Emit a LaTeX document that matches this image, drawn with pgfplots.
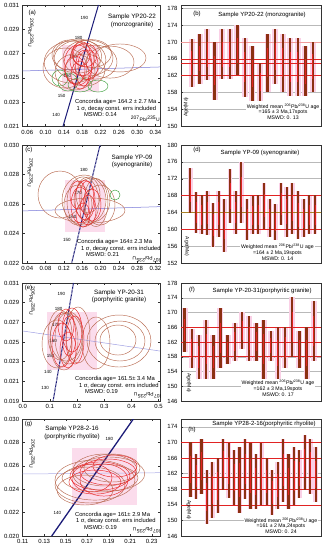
\documentclass[border=0pt]{standalone}
\usepackage{pgfplots}
\usepackage{pgfplotstable}
\pgfplotsset{compat=1.18}
\usepackage{fontspec}
\setmainfont{Liberation Sans}
\definecolor{navy}{RGB}{28,28,120}
\definecolor{ebrown}{RGB}{184,106,80}
\definecolor{ered}{RGB}{232,40,40}
\definecolor{egreen}{RGB}{60,160,60}
\definecolor{dline}{RGB}{120,120,215}
\definecolor{pinkbg}{RGB}{250,208,230}
\definecolor{barbrown}{RGB}{140,48,18}
\definecolor{barred}{RGB}{225,35,35}
\definecolor{olivel}{RGB}{170,130,40}

% ---------- bar data (centre, half-length) ----------
\pgfplotstableread[row sep=\\]{
i c e\\
1 165.0 5.8\\ 2 166.05 5.95\\ 3 166.95 6.05\\ 4 163.1 6.9\\ 5 167.05 5.95\\
6 167.05 5.95\\ 7 168.05 5.95\\ 8 164.0 7.0\\ 9 162.5 6.5\\ 10 160.45 4.45\\
11 165.05 6.95\\ 12 166.55 6.45\\ 13 165.05 6.95\\ 14 164.05 6.95\\ 15 164.05 6.95\\
16 163.05 5.95\\ 17 164.05 5.95\\
}\tbB
\pgfplotstableread[row sep=\\]{
i c e\\
1 169.15 5.35\\ 2 163.95 4.95\\ 3 163.45 4.65\\ 4 163.85 5.25\\ 5 161.05 5.15\\
6 163.65 5.45\\ 7 160.9 6.2\\ 8 167.9 6.3\\ 9 163.95 5.15\\ 10 168.8 7.2\\
11 162.3 4.8\\ 12 163.35 4.55\\ 13 163.45 4.65\\ 14 165.6 5.5\\ 15 162.65 4.45\\
16 161.7 4.2\\ 17 166.0 5.1\\ 18 164.15 5.95\\ 19 164.95 6.15\\ 20 163.4 5.7\\
21 162.6 4.5\\ 22 163.45 4.65\\ 23 163.45 4.65\\
}\tbD
\pgfplotstableread[row sep=\\]{
i c e\\
1 165.15 5.95\\ 2 160.25 5.25\\ 3 157.95 6.05\\ 4 160.0 8.1\\ 5 157.95 6.05\\
6 163.0 8.1\\ 7 160.0 4.0\\ 8 162.05 5.15\\ 9 165.1 5.1\\ 10 163.0 6.1\\
11 162.05 5.15\\ 12 160.0 8.1\\ 13 161.0 4.1\\ 14 159.0 7.1\\ 15 160.5 5.6\\
16 166.15 8.15\\ 17 160.0 5.1\\ 18 159.0 7.1\\ 19 165.05 8.15\\
}\tbF
\pgfplotstableread[row sep=\\]{
i c e\\
1 163.05 7.05\\ 2 161.3 5.7\\ 3 163.9 7.1\\ 4 156.0 7.0\\ 5 157.85 7.15\\
6 158.9 7.1\\ 7 164.35 6.65\\ 8 162.8 7.1\\ 9 160.95 7.05\\ 10 160.35 8.55\\
11 163.3 7.7\\ 12 161.4 8.5\\ 13 159.95 7.05\\ 14 161.9 8.0\\ 15 159.95 6.05\\
16 157.15 5.85\\ 17 158.95 6.05\\ 18 162.85 8.15\\ 19 159.95 7.05\\ 20 161.4 7.5\\
21 161.85 6.15\\ 22 164.8 7.1\\ 23 163.9 7.1\\ 24 161.8 7.1\\
}\tbH

% ---------- ellipse data (centre in data, radii in pt, angle) ----------
\pgfplotstableread[row sep=\\]{
x y rx ry a\\
0.158 0.0263 28 21 0\\ 0.175 0.02647 26 20 0\\ 0.1927 0.02664 25 18 0\\
0.208 0.0263 22 17 0\\ 0.2626 0.02664 26 14 0\\ 0.2408 0.0263 24 16 0\\
0.1424 0.02581 22 20 0\\ 0.1643 0.02549 20 18 0\\ 0.1861 0.02565 20 16 0\\
0.1533 0.02689 18 15 0\\ 0.2000 0.02700 20 14 0\\ 0.1700 0.02680 24 17 0\\
}\ellAb
\pgfplotstableread[row sep=\\]{
x y rx ry a\\
0.1708 0.02606 14 20 0\\ 0.1796 0.02647 12 16 0\\ 0.1643 0.02565 10 14 0\\
0.1861 0.02689 12 12 0\\ 0.1752 0.02524 9 14 0\\ 0.1927 0.02606 10 15 0\\
0.1830 0.02580 8 18 0\\ 0.1780 0.02700 9 12 0\\
}\ellAr
\pgfplotstableread[row sep=\\]{
x y rx ry a\\
0.149 0.02466 10 9 0\\ 0.1315 0.02499 8 8 0\\
0.1752 0.02442 12 7 0\\ 0.2145 0.02433 10 6 0\\
}\ellAg
\pgfplotstableread[row sep=\\]{
x y rx ry a\\
0.1115 0.02664 22 23.5 0\\ 0.177 0.02556 35 12.5 0\\ 0.164 0.02627 22 25 0\\
0.1618 0.02614 16 25 0\\ 0.1814 0.02627 18 22 0\\ 0.1508 0.02593 14 20 0\\
0.1989 0.02593 15 20 0\\ 0.1728 0.02661 12 18 0\\ 0.1900 0.02610 12 24 0\\
}\ellCb
\pgfplotstableread[row sep=\\]{
x y rx ry a\\
0.1552 0.02593 9 18 0\\ 0.1661 0.02627 10 20 0\\ 0.1728 0.02559 8 15 0\\
0.1508 0.02661 8 14 0\\ 0.1814 0.02593 9 16 0\\ 0.1618 0.02525 7 12 0\\
0.1700 0.02640 7 17 0\\
}\ellCr
\pgfplotstableread[row sep=\\]{
x y rx ry a\\
0.2317 0.02661 5 5 0\\
}\ellCg
\pgfplotstableread[row sep=\\]{
x y rx ry a\\
0.1519 0.0251 14 29 0\\ 0.1703 0.02541 14 26 0\\ 0.1372 0.02571 12 25 0\\
0.2034 0.02571 12 28 0\\ 0.3542 0.0251 32 26 20\\ 0.3578 0.0251 25 20 20\\
0.3505 0.0252 18 15 20\\ 0.2696 0.0249 14 26 0\\ 0.1600 0.0255 16 24 0\\
0.1262 0.0248 15 24 15\\
}\ellEb
\pgfplotstableread[row sep=\\]{
x y rx ry a\\
0.1813 0.02622 10 22 0\\ 0.1445 0.02469 10 22 0\\ 0.1666 0.02419 8 18 0\\
0.1924 0.0252 9 24 0\\ 0.1593 0.02673 8 16 0\\ 0.1700 0.0256 7 20 0\\
}\ellEr
\pgfplotstableread[row sep=\\]{
x y rx ry a\\
0.1772 0.02478 40 20 25\\ 0.1726 0.02436 35 18 28\\ 0.1865 0.02564 32 16 22\\
0.193 0.02581 28 14 20\\ 0.1679 0.02393 28 15 30\\ 0.1819 0.02496 38 14 25\\
0.1900 0.02530 36 17 22\\
}\ellGb
\pgfplotstableread[row sep=\\]{
x y rx ry a\\
0.1819 0.02513 30 14 25\\ 0.1893 0.02547 28 13 22\\ 0.1772 0.02461 26 12 28\\
0.1958 0.02598 22 11 20\\ 0.1744 0.02496 20 14 30\\ 0.1856 0.02478 24 16 25\\
}\ellGr

\tikzset{
  agelab/.style={font=\fontsize{4.5}{5}\selectfont, anchor=east, xshift=-3pt},
  sampl/.style={font=\fontsize{6.3}{7.6}\selectfont, align=center},
  conct/.style={font=\fontsize{5.8}{6.6}\selectfont, align=left, anchor=west, inner sep=0pt},
  wmt/.style={font=\fontsize{5.2}{5.7}\selectfont, align=center, fill=white, inner sep=1pt},
  plab/.style={font=\fontsize{6}{7}\selectfont},
  axl/.style={font=\fontsize{5}{6}\selectfont},
}
\pgfplotsset{
  base/.style={scale only axis, anchor=north west,
    axis line style={black!80, line width=0.5pt},
    tick style={black!80, line width=0.4pt}, major tick length=2pt,
    tick label style={font=\fontsize{6}{7}\selectfont},
    /pgf/number format/assume math mode=true,
    scaled x ticks=false, scaled y ticks=false},
  conc/.style={base, width=137.3pt,
    yticklabel style={/pgf/number format/.cd, fixed, fixed zerofill, precision=3},
    xticklabel style={/pgf/number format/.cd, fixed, fixed zerofill, precision=#1}},
  agep/.style={base, width=140pt, xtick=\empty, ytick pos=left, ymajorgrids,
    grid style={gray!55, line width=0.45pt},
    yticklabel style={/pgf/number format/.cd, fixed, precision=0}},
  ell/.style={forget plot, only marks, mark=*, scatter,
    visualization depends on={\thisrow{rx}\as\rx},
    visualization depends on={\thisrow{ry}\as\ry},
    visualization depends on={\thisrow{a}\as\ang},
    scatter/@pre marker code/.code={\draw[#1, line width=0.45pt, rotate=\ang] (0pt,0pt) ellipse [x radius=\rx pt, y radius=\ry pt];\scope[opacity=0]},
    scatter/@post marker code/.code={\endscope}},
  vbar/.style 2 args={forget plot, draw=none, mark=none, error bars/.cd, y dir=both, y explicit, error mark=none, error bar style={draw=#1, line width=#2}},
}

\begin{document}
\begin{tikzpicture}
\path[use as bounding box] (0,0) rectangle (327pt,550pt);

% ================= (a) =================
\begin{axis}[conc=2, at={(22.7pt,545pt)}, height=121.5pt,
  xmin=0.05, xmax=0.35, ymin=0.021, ymax=0.031,
  xtick={0.06,0.10,0.14,0.18,0.22,0.26,0.30,0.34},
  ytick={0.021,0.023,0.025,0.027,0.029,0.031}]
\addplot[forget plot, fill=pinkbg, draw=none, fill opacity=0.75] coordinates {(0.1359,0.02384) (0.2163,0.02384) (0.2163,0.02771) (0.1359,0.02771)} -- cycle;
\addplot[forget plot, dline, line width=0.5pt] coordinates {(0.05,0.02557) (0.35,0.0259)};
\addplot[ell=egreen] table {\ellAg};
\addplot[ell=ebrown] table {\ellAb};
\addplot[forget plot, navy, line width=1pt] coordinates {(0.138,0.021) (0.2156,0.031)};
\addplot[ell=ered] table {\ellAr};
\node[agelab] at (axis cs:0.2071,0.0299) {190};
\node[agelab] at (axis cs:0.1948,0.02832) {180};
\node[agelab] at (axis cs:0.1824,0.02672) {170};
\node[agelab] at (axis cs:0.1700,0.02513) {160};
\node[agelab] at (axis cs:0.1577,0.02354) {150};
\node[agelab] at (axis cs:0.1454,0.02195) {140};
\node[plab] at (rel axis cs:0.07,0.935) {(a)};
\node[sampl] at (rel axis cs:0.796,0.868) {Sample YP20-22\\(monzogranite)};
\node[conct] at (rel axis cs:0.38,0.152) {Concordia age= 164.2 ± 2.7 Ma\\\hspace*{1.5pt}1 σ, decay const. errs included\\\hspace*{9pt}MSWD: 0.14};
\node[axl] at (rel axis cs:0.893,0.062) {\textsuperscript{207}Pb/\textsuperscript{235}U};
\node[axl, rotate=-90] at (rel axis cs:0.06,0.77) {\textsuperscript{206}Pb/\textsuperscript{238}U};
\end{axis}

% ================= (b) =================
\begin{axis}[agep, at={(181pt,545pt)}, height=121pt,
  xmin=-0.45, xmax=18.06, ymin=150, ymax=178.8, ytick={150,154,...,178}]
\addplot[vbar={pinkbg}{6pt}] table[x=i, y=c, y error=e] {\tbB};
\addplot[forget plot, barred!45, line width=0.5pt] coordinates {(-5,170) (30,170)};
\addplot[forget plot, barred, line width=0.5pt] coordinates {(-5,166) (30,166)};
\addplot[forget plot, barred, line width=0.5pt] coordinates {(-5,165) (30,165)};
\addplot[forget plot, barred, line width=0.5pt] coordinates {(-5,162) (30,162)};
\addplot[vbar={barbrown}{2.4pt}] table[x=i, y=c, y error=e] {\tbB};
\addplot[vbar={barred}{1pt}] table[x=i, y=c, y error expr=0.5*\thisrow{e}] {\tbB};
\node[plab] at (rel axis cs:0.114,0.926) {(b)};
\node[plab] at (rel axis cs:0.579,0.917) {Sample YP20-22 (monzogranite)};
\node[wmt] at (rel axis cs:0.729,0.118) {Weighted mean \textsuperscript{206}Pb/\textsuperscript{238}U age\\=165 ± 3 Ma,17spots\\MSWD: 0. 13};
\node[axl, rotate=90] at (rel axis cs:0.036,0.157) {Age(Ma)};
\end{axis}

% ================= (c) =================
\begin{axis}[conc=2, at={(22.7pt,405pt)}, height=118pt,
  xmin=0.03, xmax=0.33, ymin=0.022, ymax=0.030,
  xtick={0.04,0.08,0.12,0.16,0.20,0.24,0.28,0.32},
  ytick={0.022,0.024,0.026,0.028,0.030}]
\addplot[forget plot, fill=pinkbg, draw=none, fill opacity=0.75] coordinates {(0.1224,0.0241) (0.2098,0.0241) (0.2098,0.02763) (0.1224,0.02763)} -- cycle;
\addplot[forget plot, dline, line width=0.5pt] coordinates {(0.03,0.02553) (0.33,0.02582)};
\addplot[ell=ebrown] table {\ellCb};
\addplot[forget plot, navy, line width=1pt] coordinates {(0.137,0.022) (0.199,0.030)};
\addplot[forget plot, white, line width=0.35pt, dash pattern=on 2pt off 2pt] coordinates {(0.137,0.022) (0.199,0.030)};
\addplot[ell=ered] table {\ellCr};
\addplot[ell=egreen] table {\ellCg};
\node[agelab] at (axis cs:0.186,0.02832) {180};
\node[agelab] at (axis cs:0.1736,0.02672) {170};
\node[agelab] at (axis cs:0.1613,0.02513) {160};
\node[agelab] at (axis cs:0.1489,0.02354) {150};
\node[plab] at (rel axis cs:0.045,0.955) {(c)};
\node[sampl] at (rel axis cs:0.796,0.86) {Sample YP-09\\(syenogranite)};
\node[conct] at (rel axis cs:0.395,0.127) {Concordia age= 164± 2.3 Ma\\\hspace*{4pt}1 σ, decay const. errs included\\\hspace*{9pt}MSWD: 0.21};
\node[axl, rotate=180] at (rel axis cs:0.905,0.034) {\textsuperscript{207}Pb/\textsuperscript{235}U};
\node[axl, rotate=-90] at (rel axis cs:0.055,0.763) {\textsuperscript{206}Pb/\textsuperscript{238}U};
\end{axis}

% ================= (d) =================
\begin{axis}[agep, at={(181pt,405pt)}, height=118pt,
  xmin=-0.64, xmax=24.06, ymin=152, ymax=180, ytick={152,156,...,180}]
\addplot[vbar={pinkbg}{4.5pt}] table[x=i, y=c, y error=e] {\tbD};
\addplot[forget plot, barred, line width=0.5pt] coordinates {(-5,168) (30,168)};
\addplot[forget plot, olivel, line width=0.6pt] coordinates {(-5,164) (30,164)};
\addplot[forget plot, barred, line width=0.5pt] coordinates {(-5,160) (30,160)};
\addplot[vbar={barbrown}{2pt}] table[x=i, y=c, y error=e] {\tbD};
\addplot[vbar={barred}{0.9pt}] table[x=i, y=c, y error expr=0.5*\thisrow{e}] {\tbD};
\node[plab] at (rel axis cs:0.114,0.955) {(d)};
\node[plab] at (rel axis cs:0.564,0.93) {Sample YP-09 (syenogranite)};
\node[wmt] at (rel axis cs:0.689,0.091) {Weighted mean \textsuperscript{206}Pb/\textsuperscript{238}U age\\=164 ± 2 Ma,19spots\\MSWD: 0. 14};
\node[axl, rotate=-90] at (rel axis cs:0.043,0.14) {Age(Ma)};
\end{axis}

% ================= (e) =================
\begin{axis}[conc=1, at={(22.7pt,267pt)}, height=118pt,
  xmin=0, xmax=0.505, ymin=0.019, ymax=0.031,
  xtick={0,0.1,0.2,0.3,0.4,0.5},
  ytick={0.019,0.021,0.023,0.025,0.027,0.029,0.031}]
\addplot[forget plot, fill=pinkbg, draw=none, fill opacity=0.75] coordinates {(0.0894,0.02215) (0.2733,0.02215) (0.2733,0.02805) (0.0894,0.02805)} -- cycle;
\addplot[forget plot, dline!70, line width=0.5pt] coordinates {(0,0.02612) (0.505,0.02408)};
\addplot[ell=ebrown] table {\ellEb};
\addplot[forget plot, navy, line width=1pt] coordinates {(0.1118,0.019) (0.1868,0.031)};
\addplot[forget plot, white, line width=0.35pt, dash pattern=on 2pt off 2pt] coordinates {(0.1118,0.019) (0.1868,0.031)};
\addplot[ell=ered] table {\ellEr};
\node[agelab] at (axis cs:0.1800,0.0299) {190};
\node[agelab] at (axis cs:0.1701,0.02832) {180};
\node[agelab] at (axis cs:0.1601,0.02672) {170};
\node[agelab] at (axis cs:0.1501,0.02513) {160};
\node[agelab] at (axis cs:0.1402,0.02354) {150};
\node[agelab] at (axis cs:0.1302,0.02195) {140};
\node[agelab] at (axis cs:0.1204,0.02037) {130};
\node[plab] at (rel axis cs:0.042,0.955) {(e)};
\node[sampl] at (rel axis cs:0.702,0.886) {Sample YP-20-31\\(porphyritic granite)};
\node[conct] at (rel axis cs:0.38,0.136) {Concordia age= 161.5± 3.4 Ma\\\hspace*{4pt}1 σ, decay const. errs included\\\hspace*{10pt}MSWD: 0.19};
\node[axl, rotate=180] at (rel axis cs:0.913,0.05) {\textsuperscript{207}Pb/\textsuperscript{235}U};
\node[axl, rotate=-90] at (rel axis cs:0.068,0.847) {\textsuperscript{206}Pb/\textsuperscript{238}U};
\end{axis}

% ================= (f) =================
\begin{axis}[agep, at={(181pt,267pt)}, height=118pt,
  xmin=0.5, xmax=20, ymin=146, ymax=178, ytick={146,150,...,178}]
\addplot[vbar={pinkbg}{6pt}] table[x=i, y=c, y error=e] {\tbF};
\addplot[forget plot, barred, line width=0.5pt] coordinates {(-5,166) (30,166)};
\addplot[forget plot, barred, line width=0.6pt] coordinates {(-5,162) (30,162)};
\addplot[forget plot, barred, line width=0.5pt] coordinates {(-5,158) (30,158)};
\addplot[vbar={barbrown}{2.4pt}] table[x=i, y=c, y error=e] {\tbF};
\addplot[vbar={barred}{1pt}] table[x=i, y=c, y error expr=0.5*\thisrow{e}] {\tbF};
\node[plab] at (rel axis cs:0.079,0.941) {(f)};
\node[plab] at (rel axis cs:0.579,0.935) {Sample YP-20-31(porphyritic granite)};
\node[wmt] at (rel axis cs:0.693,0.108) {Weighted mean \textsuperscript{206}Pb/\textsuperscript{238}U age\\=162 ± 3 Ma,19spots\\MSWD: 0. 17};
\node[axl, rotate=-90] at (rel axis cs:0.057,0.153) {Age(Ma)};
\end{axis}

% ================= (g) =================
\begin{axis}[conc=2, at={(22.7pt,131pt)}, height=117pt,
  xmin=0.11, xmax=0.2377, ymin=0.020, ymax=0.030,
  xtick={0.11,0.13,0.15,0.17,0.19,0.21,0.23},
  ytick={0.020,0.022,0.024,0.026,0.028,0.030}]
\addplot[forget plot, fill=pinkbg, draw=none, fill opacity=0.75] coordinates {(0.1558,0.02265) (0.2163,0.02265) (0.2163,0.02752) (0.1558,0.02752)} -- cycle;
\addplot[forget plot, dline!60, line width=0.5pt] coordinates {(0.11,0.0253) (0.2377,0.02541)};
\addplot[ell=ebrown] table {\ellGb};
\addplot[ell=ered] table {\ellGr};
\addplot[forget plot, navy, line width=1.3pt] coordinates {(0.137,0.020) (0.2129,0.030)};
\node[agelab] at (axis cs:0.2002,0.02832) {180};
\node[agelab] at (axis cs:0.1518,0.02195) {140};
\node[plab] at (rel axis cs:0.042,0.955) {(g)};
\node[sampl] at (rel axis cs:0.359,0.88) {Sample YP28-2-16\\(porphyritic rhyolite)};
\node[conct] at (rel axis cs:0.38,0.132) {Concordia age= 161± 2.9 Ma\\\hspace*{1pt}1 σ, decay const. errs included\\\hspace*{9pt}MSWD: 0.19};
\node[axl, rotate=180] at (rel axis cs:0.906,0.051) {\textsuperscript{207}Pb/\textsuperscript{235}U};
\node[axl, rotate=-90] at (rel axis cs:0.068,0.70) {\textsuperscript{206}Pb/\textsuperscript{238}U};
\end{axis}

% ================= (h) =================
\begin{axis}[agep, at={(181pt,131pt)}, height=117pt,
  xmin=-0.76, xmax=24.97, ymin=146, ymax=176, ytick={146,150,...,174}]
\addplot[vbar={pinkbg}{4.5pt}] table[x=i, y=c, y error=e] {\tbH};
\addplot[forget plot, barred, line width=0.5pt] coordinates {(-5,170) (30,170)};
\addplot[forget plot, barred, line width=0.5pt] coordinates {(-5,166) (30,166)};
\addplot[forget plot, barred, line width=0.6pt] coordinates {(-5,161) (30,161)};
\addplot[forget plot, barred, line width=0.5pt] coordinates {(-5,158) (30,158)};
\addplot[forget plot, barred, line width=0.5pt] coordinates {(-5,154) (30,154)};
\addplot[vbar={barbrown}{2.2pt}] table[x=i, y=c, y error=e] {\tbH};
\addplot[vbar={barred}{0.9pt}] table[x=i, y=c, y error expr=0.5*\thisrow{e}] {\tbH};
\node[plab] at (rel axis cs:0.079,0.906) {(h)};
\node[plab] at (rel axis cs:0.593,0.955) {Sample YP28-2-16(porphyritic rhyolite)};
\node[wmt] at (rel axis cs:0.714,0.088) {Weighted mean \textsuperscript{206}Pb/\textsuperscript{238}U age\\=161 ± 2 Ma,24spots\\MSWD: 0. 24};
\node[axl, rotate=-90] at (rel axis cs:0.057,0.222) {Age(Ma)};
\end{axis}
\end{tikzpicture}
\end{document}
